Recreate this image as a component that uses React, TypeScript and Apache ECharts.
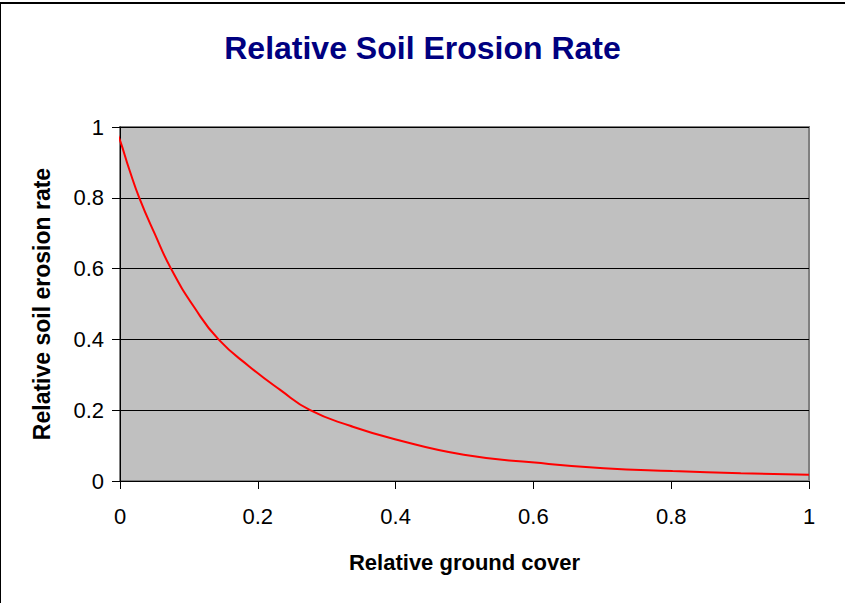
import React, { useEffect, useRef } from "react";
import * as echarts from "echarts";

const titleText = "Relative Soil Erosion Rate";
const xAxisTitle = "Relative ground cover";
const yAxisTitle = "Relative soil erosion rate";

const groundCover = [-0.008, 0, 0.0135, 0.028, 0.05, 0.074, 0.108, 0.143, 0.188, 0.232, 0.276, 0.334, 0.399, 0.499, 0.602, 0.702, 0.802, 0.901, 1.0];
const erosionRate = [1.0, 0.962, 0.88, 0.8, 0.7, 0.6, 0.49, 0.4, 0.323, 0.258, 0.2, 0.156, 0.118, 0.074, 0.052, 0.036, 0.028, 0.022, 0.018];

const FONT = "'Liberation Sans', Arial, Helvetica, sans-serif";

export default function App() {
  const ref = useRef<HTMLDivElement>(null);
  useEffect(() => {
    if (!ref.current) return;
    const chart = echarts.init(ref.current, undefined, { renderer: "svg" });
    const data = groundCover.map((x, i) => [x, erosionRate[i]]);
    chart.setOption({
      animation: false,
      backgroundColor: "#ffffff",
      textStyle: { fontFamily: FONT },
      title: {
        text: titleText,
        left: "center",
        top: 27,
        textStyle: { color: "#000080", fontSize: 32, fontWeight: "bold", fontFamily: FONT },
      },
      graphic: [
        { type: "line", shape: { x1: 0, y1: 3, x2: 845, y2: 3 }, style: { stroke: "#000000", lineWidth: 2 } },
        { type: "line", shape: { x1: 0.5, y1: 3, x2: 0.5, y2: 603 }, style: { stroke: "#000000", lineWidth: 1 } },
      ],
      grid: {
        left: 120,
        top: 127,
        right: 36,
        bottom: 122,
        show: true,
        backgroundColor: "#C0C0C0",
        borderColor: "#808080",
        borderWidth: 2,
      },
      xAxis: {
        type: "value",
        min: 0,
        max: 1,
        interval: 0.2,
        name: xAxisTitle,
        nameLocation: "middle",
        nameGap: 70,
        nameTextStyle: { fontSize: 22, fontWeight: "bold", color: "#000000", fontFamily: FONT },
        axisLine: { show: true, onZero: false, lineStyle: { color: "#000000", width: 1 } },
        axisTick: { show: true, inside: false, length: 8, lineStyle: { color: "#000000" } },
        axisLabel: { fontSize: 22, color: "#000000", margin: 24, fontFamily: FONT },
        splitLine: { show: false },
      },
      yAxis: {
        type: "value",
        min: 0,
        max: 1,
        interval: 0.2,
        name: yAxisTitle,
        nameLocation: "middle",
        nameRotate: 90,
        nameGap: 67,
        nameTextStyle: { fontSize: 23, fontWeight: "bold", color: "#000000", fontFamily: FONT },
        axisLine: { show: true, lineStyle: { color: "#000000", width: 1 } },
        axisTick: { show: true, inside: false, length: 8, lineStyle: { color: "#000000" } },
        axisLabel: { fontSize: 22, color: "#000000", margin: 16, fontFamily: FONT },
        splitLine: { show: true, lineStyle: { color: "#000000", width: 1 } },
      },
      series: [
        {
          type: "line",
          data,
          smooth: 0.5,
          clip: false,
          showSymbol: false,
          symbol: "none",
          lineStyle: { color: "#FF0000", width: 2 },
        },
      ],
    });
    return () => chart.dispose();
  }, []);
  return (
    <div
      ref={ref}
      style={{ position: "fixed", left: 0, top: 0, width: 845, height: 603, background: "#fff" }}
    />
  );
}
